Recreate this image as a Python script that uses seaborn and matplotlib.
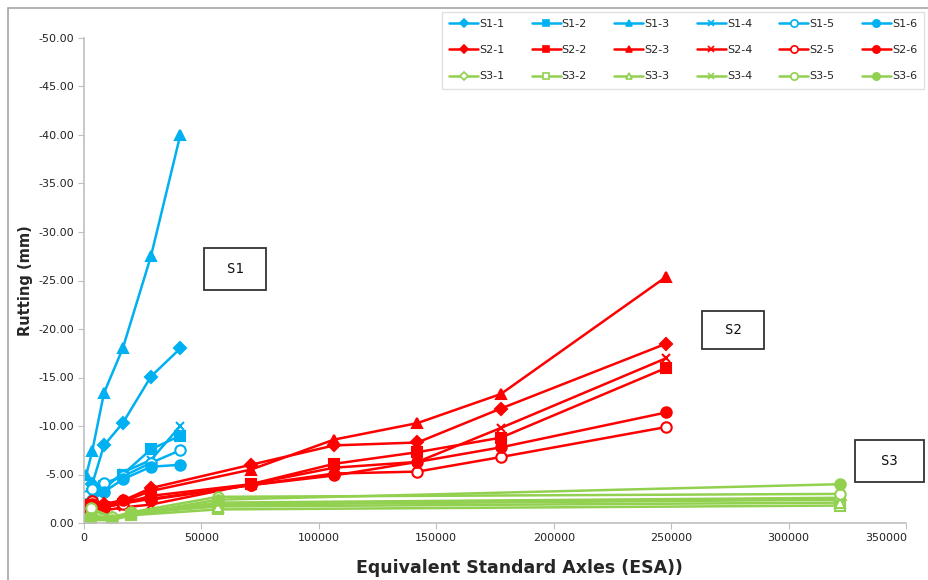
import numpy as np
import pandas as pd
import seaborn as sns
import matplotlib
matplotlib.use("Agg")
import matplotlib.pyplot as plt
from matplotlib.patches import Rectangle
from matplotlib.lines import Line2D
from matplotlib.transforms import ScaledTranslation

# ---- data: cumulative ESA and rut depth (mm, negative = downward) ----
s1_esa = [1000, 3500, 8500, 16500, 28500, 41000]
s2_esa = [1000, 3500, 8500, 16500, 28500, 71000, 106500, 142000, 177500, 248000]
s3_esa = [0, 3000, 12000, 20000, 57000, 322000]

s1_1 = [-2.5, -4.0, -8.0, -10.3, -15.1, -18.0]
s1_2 = [-2.2, -3.0, -3.8, -5.0, -7.6, -9.0]
s1_3 = [-5.0, -7.4, -13.4, -18.0, -27.5, -40.0]
s1_4 = [-2.0, -2.6, -3.5, -5.2, -6.5, -10.0]
s1_5 = [-2.8, -3.5, -4.1, -4.8, -6.2, -7.5]
s1_6 = [-2.0, -2.4, -3.2, -4.5, -5.8, -6.0]

s2_1 = [-1.8, -2.2, -2.0, -2.3, -3.6, -6.0, -8.0, -8.3, -11.8, -18.5]
s2_2 = [-1.5, -1.8, -1.7, -2.0, -2.8, -4.0, -6.1, -7.3, -8.8, -16.0]
s2_3 = [-1.6, -2.0, -1.9, -2.2, -3.3, -5.5, -8.6, -10.3, -13.3, -25.4]
s2_4 = [-1.2, -1.4, -1.3, -1.6, -1.9, -4.0, -5.7, -6.3, -9.8, -17.0]
s2_5 = [-1.7, -2.3, -1.6, -2.0, -2.5, -3.9, -5.1, -5.3, -6.8, -9.9]
s2_6 = [-1.6, -2.0, -1.8, -2.4, -2.4, -3.9, -4.9, -6.3, -7.8, -11.4]

s3_1 = [0.0, -0.8, -0.5, -0.9, -1.9, -2.4]
s3_2 = [0.0, -0.3, -0.3, -0.8, -1.4, -1.8]
s3_3 = [0.0, -1.3, -0.6, -1.0, -1.7, -2.1]
s3_4 = [0.0, -0.6, -0.4, -1.0, -2.1, -2.6]
s3_5 = [0.0, -1.5, -0.6, -1.1, -2.7, -3.0]
s3_6 = [0.0, -0.5, -0.3, -0.9, -2.4, -4.0]

x_ticks = [0, 50000, 100000, 150000, 200000, 250000, 300000, 350000]
y_ticks = [0, -5, -10, -15, -20, -25, -30, -35, -40, -45, -50]

BLUE, RED, GREEN = "#00B0F0", "#FF0000", "#92D050"

# marker style per sub-section: (marker, filled)
blue_red_styles = [("D", True), ("s", True), ("^", True), ("x", True), ("o", False), ("o", True)]
green_styles = [("D", False), ("s", False), ("^", False), ("x", True), ("o", False), ("o", True)]

groups = [
    ("S1", BLUE, s1_esa, [s1_1, s1_2, s1_3, s1_4, s1_5, s1_6], blue_red_styles),
    ("S2", RED, s2_esa, [s2_1, s2_2, s2_3, s2_4, s2_5, s2_6], blue_red_styles),
    ("S3", GREEN, s3_esa, [s3_1, s3_2, s3_3, s3_4, s3_5, s3_6], green_styles),
]

sns.set_theme(style="white")
plt.rcParams["font.family"] = ["DejaVu Sans"]

fig = plt.figure(figsize=(9.29, 5.80), dpi=100)
ax = fig.add_axes([84 / 929, 1 - 523 / 580, (906 - 84) / 929, (523 - 38) / 580])

handles = {}
for name, color, esa, series, styles in groups:
    for i, (vals, (mk, filled)) in enumerate(zip(series, styles)):
        label = f"{name}-{i + 1}"
        df = pd.DataFrame({"ESA": esa, "Rut": vals})
        msize = {"o": 7.5, "D": 6.5, "s": 6.5, "^": 7, "x": 6}[mk]
        sns.lineplot(data=df, x="ESA", y="Rut", ax=ax, sort=False, estimator=None,
                     color=color, linewidth=1.8, marker=mk, markersize=msize,
                     markerfacecolor=(color if filled else "white"),
                     markeredgecolor=color, markeredgewidth=1.5, legend=False)
        handles[label] = Line2D([], [], color=color, linewidth=1.8, marker=mk,
                                markersize=msize * 0.7,
                                markerfacecolor=(color if filled else "white"),
                                markeredgecolor=color, markeredgewidth=1.2)

ax.set_xlim(0, 350000)
ax.set_ylim(0, -50)
ax.set_xticks(x_ticks)
ax.set_xticklabels([str(v) for v in x_ticks])
ax.set_yticks(y_ticks)
ax.set_yticklabels([f"{v:.2f}" if v != 0 else "0.00" for v in y_ticks])
ax.tick_params(axis="both", labelsize=8, length=4, width=0.8,
               direction="out", bottom=True, left=True, pad=3, color="#BFBFBF")
for lab in ax.get_xticklabels() + ax.get_yticklabels():
    lab.set_color("#222222")
# keep the last x label inside the plot frame
last = ax.get_xticklabels()[-1]
last.set_transform(last.get_transform() + ScaledTranslation(-0.2, 0, fig.dpi_scale_trans))

for side in ("top", "right"):
    ax.spines[side].set_visible(False)
for side in ("left", "bottom"):
    ax.spines[side].set_color("#BFBFBF")
    ax.spines[side].set_linewidth(1.2)
ax.grid(False)
ax.set_facecolor("white")

ax.set_ylabel("Rutting (mm)", fontsize=10.5, fontweight="bold", labelpad=4)
ax.set_xlabel("Equivalent Standard Axles (ESA))", fontsize=12.5, fontweight="bold")
ax.xaxis.set_label_coords(0.53, -0.074)

# legend laid out as three rows (one per section), six columns
order = []
for i in range(1, 7):
    for name in ("S1", "S2", "S3"):
        order.append(f"{name}-{i}")
leg = fig.legend([handles[k] for k in order], order, ncol=6, fontsize=8,
                 loc="upper left", bbox_to_anchor=(442 / 929, 1 - 12 / 580),
                 frameon=True, fancybox=False, edgecolor="#D9D9D9",
                 handlelength=2.6, handletextpad=0.1, columnspacing=2.45,
                 labelspacing=1.45, borderpad=0.65, borderaxespad=0)
leg.get_frame().set_linewidth(1.0)

# section labels in framed boxes
def section_box(x0, y0, x1, y1, text):
    fig.patches.append(Rectangle((x0 / 929, 1 - y1 / 580), (x1 - x0) / 929, (y1 - y0) / 580,
                                 transform=fig.transFigure, facecolor="white",
                                 edgecolor="#333333", linewidth=1.3, zorder=5))
    fig.text((x0 + x1) / 2 / 929, 1 - (y0 + y1) / 2 / 580, text, ha="center", va="center",
             fontsize=10, family="DejaVu Sans Mono", color="#111111", zorder=6)

section_box(204, 248, 266, 290, "S1")
section_box(702, 311, 764, 349, "S2")
section_box(855, 440, 924, 482, "S3")

# outer chart-area border
fig.patches.append(Rectangle((8 / 929, -0.05), 1.0, 1 - 8 / 580 + 0.05,
                             transform=fig.transFigure, facecolor="none",
                             edgecolor="#A6A6A6", linewidth=1.2, zorder=0))

fig.savefig("out.png", dpi=100)
